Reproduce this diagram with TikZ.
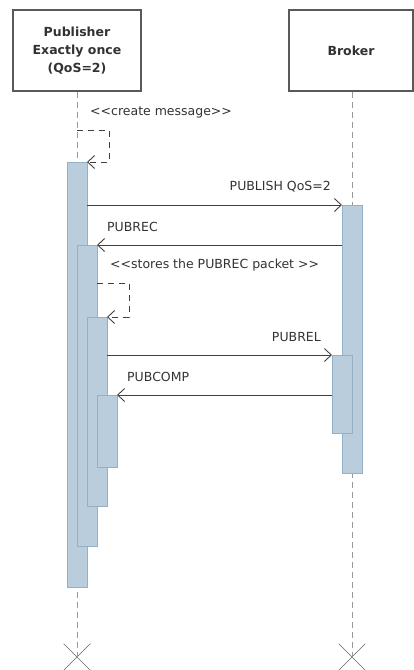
\documentclass[tikz,border=0pt]{standalone}
\usepackage{fontspec}
\setmainfont{DejaVu Sans}
\usepackage{xcolor}
\usepackage{tikz}
\usetikzlibrary{arrows.meta,shapes.misc}

\definecolor{actfill}{RGB}{186,205,221}
\definecolor{actline}{RGB}{148,176,199}
\definecolor{inkgray}{RGB}{50,50,50}

\begin{document}
\begin{tikzpicture}[x=1pt, y=-1pt,
  head/.style={
    draw=black!65, line width=1.2pt, fill=white,
    minimum width=128pt, minimum height=81pt,
    align=center, text=inkgray,
    font=\fontsize{12.5}{18}\selectfont\bfseries
  },
  life/.style={draw=black!40, line width=0.6pt,
    dash pattern=on 6pt off 4pt},
  act/.style={draw=actline, fill=actfill, line width=0.6pt,
    minimum width=20pt, inner sep=0pt, outer sep=0pt},
  msg/.style={-{Straight Barb[length=7pt,width=13pt]},
    draw=black!75, line width=0.9pt},
  selfmsg/.style={msg, dash pattern=on 6pt off 5pt},
  lbl/.style={font=\fontsize{12.5}{14}\selectfont, text=inkgray,
    inner sep=0pt},
  stop/.style={cross out, draw=black!60, line width=0.6pt,
    minimum size=26pt, inner sep=0pt}]

\useasboundingbox (0,0) rectangle (414,670);

% Lifeline heads
\node[head] (pub) at (77,50.5) {Publisher\\Exactly once\\(QoS=2)};
\node[head, minimum width=124pt] (brk) at (351,50.5) {Broker};

% Lifeline ends
\node[stop] (xpub) at (77,657) {};
\node[stop] (xbrk) at (352,657) {};

% Dashed lifelines
\draw[life] (pub.south) -- (xpub.center);
\draw[life] (brk.south -| xbrk) -- (xbrk.center);

% Activation bars -- publisher side
\node[act, minimum height=425pt] (pa1) at (77,374.5) {};
\node[act, minimum height=301pt] (pa2) at (87,395.5) {};
\node[act, minimum height=189pt] (pa3) at (97,411.5) {};
\node[act, minimum height=72pt]  (pa4) at (107,431) {};

% Activation bars -- broker side
\node[act, minimum height=268pt] (ba1) at (352,339) {};
\node[act, minimum height=78pt]  (ba2) at (342,394) {};

% Self messages
\coordinate (s1) at (77,130);
\coordinate (s2) at (97,283);
\draw[selfmsg] (s1) -- ++(32,0) |- (pa1.north east);
\draw[selfmsg] (s2) -- ++(32,0) |- (pa3.north east);

% Messages between the two lifelines
\draw[msg] (pa1.east |- ba1.north west) -- (ba1.north west);
\draw[msg] (ba1.west |- pa2.north east) -- (pa2.north east);
\draw[msg] (pa3.east |- ba2.north west) -- (ba2.north west);
\draw[msg] (ba2.west |- pa4.north east) -- (pa4.north east);

% Labels
\node[lbl, anchor=west] (lcreate) at (90,112)
  {<{}<create message>{}>};
\node[lbl, anchor=east] (lpublish) at (331,187) {PUBLISH QoS=2};
\node[lbl, anchor=west] (lpubrec) at (107,227) {PUBREC};
\node[lbl, anchor=west] (lstore) at (110,265)
  {<{}<stores the PUBREC packet >{}>};
\node[lbl, anchor=east] (lpubrel) at (321,337) {PUBREL};
\node[lbl, anchor=west] (lpubcomp) at (127,377) {PUBCOMP};

\end{tikzpicture}
\end{document}
